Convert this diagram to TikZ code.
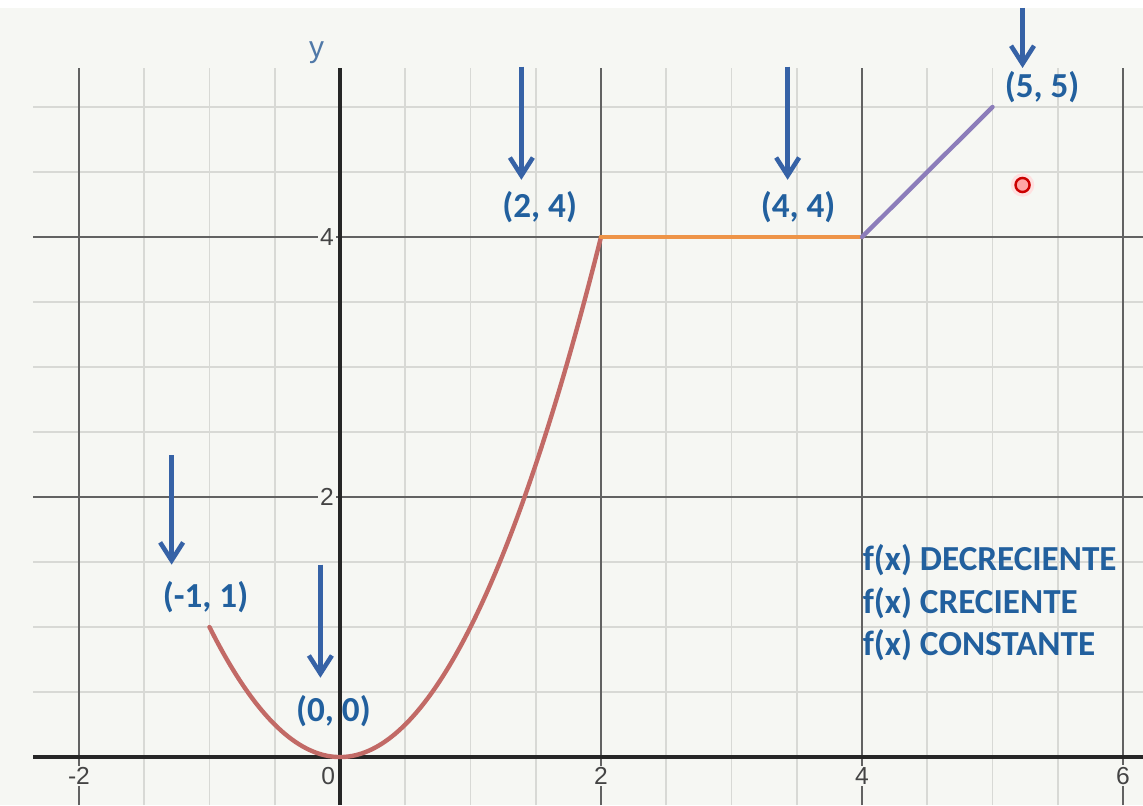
\documentclass[tikz,border=0pt]{standalone}
\usepackage{fontspec}
\setmainfont{Carlito}
\newfontfamily\achsenfont{Liberation Sans}
\usepackage{tikz}
\usetikzlibrary{arrows.meta}
\definecolor{hinter}{HTML}{F6F7F3}
\definecolor{raster}{HTML}{D8D9D5}
\definecolor{hauptraster}{HTML}{626262}
\definecolor{pfeilblau}{HTML}{3662A6}
\definecolor{textblau}{HTML}{22609E}
\definecolor{parabel}{HTML}{C26A66}
\definecolor{konstant}{HTML}{EE9448}
\definecolor{steigend}{HTML}{8C7DBA}
\definecolor{achsgrau}{HTML}{444444}
\definecolor{ylabel}{HTML}{5079A8}

\begin{document}
\begin{tikzpicture}[x=2.61cm, y=2.6cm,
			>={Straight Barb[length=3.6mm,width=4.6mm]},   %Pfeilspitzen
			pfeil/.style={->, pfeilblau, line width=2.6pt},
			punkt/.style={textblau, font=\bfseries\fontsize{20}{24}\selectfont, inner sep=1pt},
			zahl/.style={achsgrau, font=\achsenfont\fontsize{14}{16}\selectfont, fill=hinter, inner sep=1pt},
			kurve/.style={line width=2.5pt, line cap=round}]
			%Hintergrund
			\fill[hinter] (-2.605,-0.369) rectangle (6.153,5.823);
			\fill[white] (-2.605,5.763) rectangle (6.153,5.823);
			\useasboundingbox (-2.605,-0.369) rectangle (6.153,5.823);
			%Raster zeichnen
			\foreach \x in {-1.5,-1,...,5.5} \draw[raster, line width=0.9pt] (\x,-0.369) -- (\x,5.3);
			\foreach \y in {0.5,1,...,5} \draw[raster, line width=0.9pt] (-2.35,\y) -- (6.153,\y);
			\foreach \x in {-2,2,4,6} \draw[hauptraster, line width=1.1pt] (\x,-0.369) -- (\x,5.3);
			\foreach \y in {2,4} \draw[hauptraster, line width=1.1pt] (-2.35,\y) -- (6.153,\y);
			% Achsen zeichnen
			\draw[black!85, line width=1.8pt] (-2.35,0) -- (6.153,0);
			\draw[black!85, line width=1.8pt] (0,-0.369) -- (0,5.3);
			% Achsen beschriften
			\foreach \x in {-2,2,4,6} \node[zahl] (nx\x) at (\x,-0.145) {\x};
			\foreach \y in {2,4} \node[zahl] (ny\y) at (-0.1,\y) {\y};
			\node[zahl] (null) at (-0.09,-0.145) {0};
			\node[ylabel, font=\achsenfont\fontsize{17}{20}\selectfont] (yachse) at (-0.18,5.42) {y};
			%Funktionen zeichnen
			\coordinate (P11) at (-1,1);
			\coordinate (P24) at (2,4);
			\coordinate (P44) at (4,4);
			\coordinate (P55) at (5,5);
			\draw[parabel, kurve, smooth, domain=-1:2, samples=60] plot (\x, {\x*\x});
			\draw[konstant, kurve] (P24) -- (P44);
			\draw[steigend, kurve] (P44) -- (P55);
			%Beschriftung
			\node[punkt] (L11) at (-1.03,1.23) {(-1, 1)};
			\node[punkt] (L00) at (-0.05,0.35) {(0, 0)};
			\node[punkt] (L24) at (1.53,4.23) {(2, 4)};
			\node[punkt] (L44) at (3.51,4.23) {(4, 4)};
			\node[punkt] (L55) at (5.38,5.15) {(5, 5)};
			\node[punkt, anchor=west] (dec) at (3.99,1.515) {f(x) DECRECIENTE};
			\node[punkt, anchor=west] (cre) at (3.99,1.185) {f(x) CRECIENTE};
			\node[punkt, anchor=west] (con) at (3.99,0.862) {f(x) CONSTANTE};
			%Pfeile
			\coordinate (a11) at (-1.29,2.32);  \coordinate (s11) at (-1.29,1.48);
			\coordinate (a00) at (-0.15,1.48);  \coordinate (s00) at (-0.15,0.61);
			\coordinate (a24) at (1.39,5.31);   \coordinate (s24) at (1.39,4.44);
			\coordinate (a44) at (3.43,5.31);   \coordinate (s44) at (3.43,4.44);
			\coordinate (a55) at (5.23,5.763);  \coordinate (s55) at (5.23,5.3);
			\foreach \p in {11,00,24,44,55} \draw[pfeil] (a\p) -- (s\p);
			%Zeiger
			\fill[red!12] (5.23,4.4) circle (0.09);
			\node[circle, draw=red!80!black, fill=red!35, line width=1.4pt, minimum size=8pt, inner sep=0pt] (zeiger) at (5.23,4.4) {};
		\end{tikzpicture}
\end{document}
